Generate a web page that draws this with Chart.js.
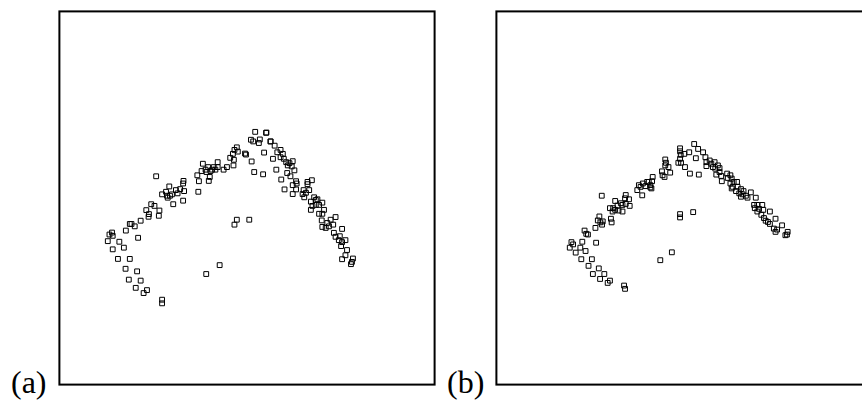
<!DOCTYPE html>
<html>
<head>
<meta charset="utf-8">
<script src="https://cdn.jsdelivr.net/npm/chart.js@4/dist/chart.umd.min.js"></script>
<style>
  html, body { margin: 0; padding: 0; background: #fff; overflow: hidden; }
  body { width: 862px; height: 401px; position: relative; }
  canvas { position: absolute; }
  .lbl { position: absolute; font-family: "Liberation Serif", serif; font-size: 32px; line-height: 1; color: #000; }
</style>
</head>
<body>
<canvas id="chartA" width="384" height="382" style="left:55px;top:7px"></canvas>
<canvas id="chartB" width="384" height="382" style="left:492px;top:7px"></canvas>
<div class="lbl" style="left:11px;top:366px">(a)</div>
<div class="lbl" style="left:447px;top:366px">(b)</div>
<script>
// panel labels
const panelLabels = ["(a)", "(b)"];

// axis ranges (same units as the points)
const rangeAX = [57, 437];
const rangeBX = [494, 874];
const rangeY = [9, 387];

// panel (a) points [x, y]
const pointsA = [
  [155,176],[182.7,180.7],[182.3,183.3],[168.3,186.3],[161,194.3],[165,191.7],[166.7,197.7],[171,194.3],
  [175,190],[179.3,189],[183.3,191],[169,195.7],[166,195.7],[176.7,193.3],[172.3,204.3],[182.3,200.7],
  [150,204.3],[153.3,206],[145,210.3],[158.3,210.7],[147.7,214.3],[147.3,217],[157.7,216],[139.3,221],
  [128.3,224.3],[130,224.3],[133.3,226.7],[124.3,231],[136.7,238.3],[110.3,233],[107.7,235],[111,236.3],
  [106,241.7],[117.7,242.3],[122.3,248.3],[111,250],[116.3,259.7],[128.3,259.7],[124,269.7],[135.7,272.3],
  [127.3,280.7],[139.3,281.7],[134.3,289],[145.7,291.3],[142.3,294.3],[161,301],[161,304.7],
  [255.3,131],[266.3,132],[251,139],[253.3,140.7],[260,138.7],[259,142.3],[270.7,140.7],[236.7,146.7],
  [234.3,149.3],[237.7,151],[232.7,153.3],[245,153],[246,154],[264.3,152],[230,157.3],[233.7,159.3],
  [251.7,161],[233.3,165],[226.7,166.7],[223.3,169.3],[217.3,161.7],[217.3,166.7],[213.3,166.7],[215,169.3],
  [211.7,169.3],[202.3,163.3],[207.7,166.7],[205,169.3],[201,170.7],[206,171.7],[210,170.7],[196.7,175],
  [209.3,176.7],[198.3,181],[208.3,180.7],[254.3,171.7],[263.3,174],[197.7,191.7],[236.7,220],[234.3,225],
  [249.3,220],[219.3,266],[205.7,275],
  [266.7,131.7],[271,140.7],[275,145],[281,149.3],[277.7,151.7],[283.3,153.3],[273.3,158.3],[281,156.7],
  [284.3,158.3],[286.7,161.7],[290,162.7],[293.3,160.7],[288.3,165],[292.3,166],[276.7,169.3],[287.7,172.7],
  [295,170],[291,176],[281.7,179.3],[296.7,181],[297.3,183.3],[293.3,185],[308.3,181.7],[312.7,180],
  [308.3,184],[285,189.3],[296.7,189.3],[293.3,194],[304.3,190],[310,190],[303.3,194],[306.7,192.7],
  [305,197.3],[315,197.3],[316.7,200],[311.7,201.7],[318.3,199.3],[323.3,202.7],[313.3,206],[316.7,205],
  [320,205],[311.7,210],[325,210],[320,214],[323.3,214],[322.7,220.7],[336.7,217.3],[331.7,220],
  [328.3,223.3],[334.3,225],[323.3,227.3],[326.7,228.3],[330,226.7],[343.3,229.3],[335,233.3],[336.7,237.3],
  [341,236.7],[340,240.7],[346.7,240.7],[343.3,242.7],[342.3,246.7],[348.3,250.7],[346.7,256],[343.3,260],
  [354.3,259.3],[353.3,262.7],[352.3,265]
];

// panel (b) points [x, y]
const pointsB = [
  [638.3,185],[642.3,183.3],[646.7,181.7],[640,186.7],[645,186],[650,187.3],[636.7,190],[641.7,195.3],
  [600.7,195.7],[625,195],[624.3,198.3],[628.3,199.3],[614.3,201],[620,203.3],[625,204],[629,206],
  [621.7,205],[616.7,205.7],[609,208.3],[612.3,208.3],[614.3,210],[611.7,211.7],[617.7,210.7],[621.7,211.7],
  [598.3,216.7],[610,219],[596.7,220.7],[601.7,221.7],[599.3,222.7],[610.7,222.7],[601,225],[594.3,228.3],
  [583.3,231],[585,234.3],[586.7,235],[595,243.3],[581,242.3],[570,242.7],[571.7,245],[568.3,248.3],
  [579,248.3],[584.3,251.7],[574.3,253.3],[580,260],[590.7,260],[587.3,266.7],[597.7,269.3],[591.7,275],
  [603.3,275],[599,280],[609,281.7],[606.7,284],[623.3,286.7],[624.3,290],
  [694.3,143.3],[698.3,148.3],[680,147.7],[680,150.7],[684.3,153.3],[689.3,151.7],[680.7,154.3],[680,158.3],
  [678.3,162.3],[681,162.3],[703.3,151.7],[696,157.7],[665,159],[665.7,162.3],[665,165],[668.3,166.7],
  [661.7,171],[670,172.3],[662.3,175],[664.3,176.7],[685,166.7],[690,173.3],[699,174.3],[705.7,156.7],
  [706.7,161.7],[710,160],[706.7,165.7],[711.7,163.3],[715,161.7],[718.3,165],[715.7,168.3],[720,167.7],
  [713.3,166.7],[720,171.7],[716.7,174.3],[721.7,175.7],[722.3,181],[727.7,173.3],[731,175],[728.3,177.7],
  [732.3,178.3],[734.3,181.7],[737.7,181.7],[731,183.3],[733.3,186.7],[738.3,186.7],[732.3,188.3],[741.7,189],
  [744.3,191],[736.7,191],[740,193.3],[743.3,194.3],[746.7,195.7],[751.7,192.3],[741.7,196.7],[748.3,197.7],
  [756.7,197.7],[755,205],[758.3,205],[763.3,205],[755.7,208.3],[760,209],[758.3,211.7],[764.3,210],
  [762.3,215],[771,211.7],[765,218.3],[769,222.3],[771,224.3],[776.7,219],[766.7,221],[783.3,225.7],
  [775,229],[776.7,232.3],[778.3,230],[789,232.3],[786.7,235.7],[788.3,235],[680,214.3],[680,217.7],
  [693.3,212.3],[660,261],[671.7,253],[648.3,181.7],[651.7,181],[650,185],[651,188.3],[652.3,176.7]
];

// frame round the plot area
const framePlugin = {
  id: "frame",
  afterDraw(chart) {
    const { ctx, chartArea: a } = chart;
    ctx.save();
    ctx.strokeStyle = "#000";
    ctx.lineWidth = 2;
    ctx.strokeRect(a.left, a.top, a.right - a.left, a.bottom - a.top);
    ctx.restore();
  },
};

function makeChart(id, points, xRange) {
  return new Chart(document.getElementById(id), {
    type: "scatter",
    data: {
      datasets: [{
        data: points.map(p => ({ x: p[0], y: p[1] })),
        pointStyle: "rect",
        pointRadius: 3.4,
        pointHoverRadius: 3.4,
        borderColor: "#000",
        borderWidth: 1,
        backgroundColor: "rgba(0,0,0,0)",
      }],
    },
    options: {
      responsive: false,
      animation: false,
      devicePixelRatio: 1,
      layout: { padding: 2 },
      plugins: { legend: { display: false }, tooltip: { enabled: false } },
      scales: {
        x: { type: "linear", display: false, min: xRange[0], max: xRange[1] },
        y: { type: "linear", display: false, reverse: true, min: rangeY[0], max: rangeY[1] },
      },
    },
    plugins: [framePlugin],
  });
}

makeChart("chartA", pointsA, rangeAX);
makeChart("chartB", pointsB, rangeBX);
</script>
</body>
</html>
